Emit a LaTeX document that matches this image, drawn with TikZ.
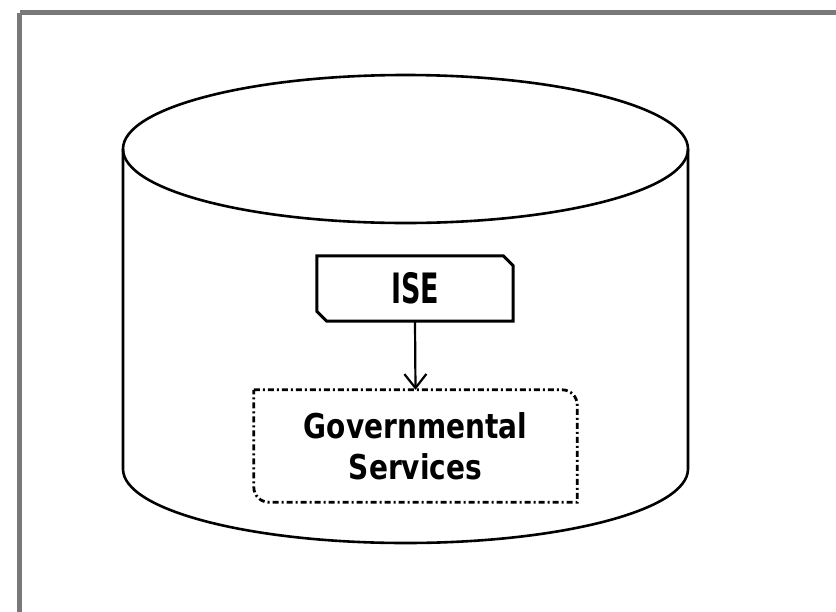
\documentclass[tikz,border=0pt]{standalone}
\usepackage{fontspec}
\setmainfont{DejaVu Sans}
\usetikzlibrary{arrows.meta}
\begin{document}
\begin{tikzpicture}[x=1pt,y=-1pt,
  outline/.style={line width=2.6pt,black},
  boxline/.style={line width=3pt,black,line join=miter},
  dashdotline/.style={line width=2.8pt,black,dash pattern=on 6pt off 3pt on 2pt off 3pt},
  lbl/.style={inner sep=0pt,align=center}]
\useasboundingbox (0,0) rectangle (836,611);
\fill[white] (0,0) rectangle (836,611);
% frame
\draw[line width=4.5pt,gray!95!black] (19.5,12.5) -- (845,12.5);
\draw[line width=4.5pt,gray!95!black] (19.5,12.5) -- (19.5,620);
% cylinder
\coordinate (ctop) at (405.5,149);
\draw[outline] (ctop) ellipse [x radius=282.5, y radius=74];
\draw[outline] (123,149) -- (123,469) arc[start angle=180,end angle=360,x radius=282.5,y radius=-74] -- (688,149);
% ISE
\node[lbl,minimum width=196pt,minimum height=65pt,font=\bfseries\fontsize{27}{30}\selectfont] (ise) at (415,288.5)
  {\scalebox{1}[1.55]{ISE}};
\draw[boxline] (ise.north west) -- ([xshift=-10pt]ise.north east) -- ([yshift=-10pt]ise.north east)
  -- (ise.south east) -- ([xshift=10pt]ise.south west) -- ([yshift=10pt]ise.south west) -- cycle;
% Governmental Services
\node[lbl,minimum width=323pt,minimum height=112pt,font=\bfseries\fontsize{28}{41}\selectfont] (gov) at (415.5,446)
  {\scalebox{1}[1.22]{Governmental}\\\scalebox{1}[1.22]{Services}};
\draw[dashdotline] (gov.north west) -- ([xshift=-15pt]gov.north east)
  arc[start angle=90,end angle=0,radius=15pt] -- (gov.south east)
  -- ([xshift=15pt]gov.south west) arc[start angle=270,end angle=180,radius=15pt] -- cycle;
% arrow
\draw[line width=2.2pt,-{Straight Barb[length=14pt,width=22pt,line width=2.2pt]}] (ise.south) -- (gov.north);
\end{tikzpicture}
\end{document}
